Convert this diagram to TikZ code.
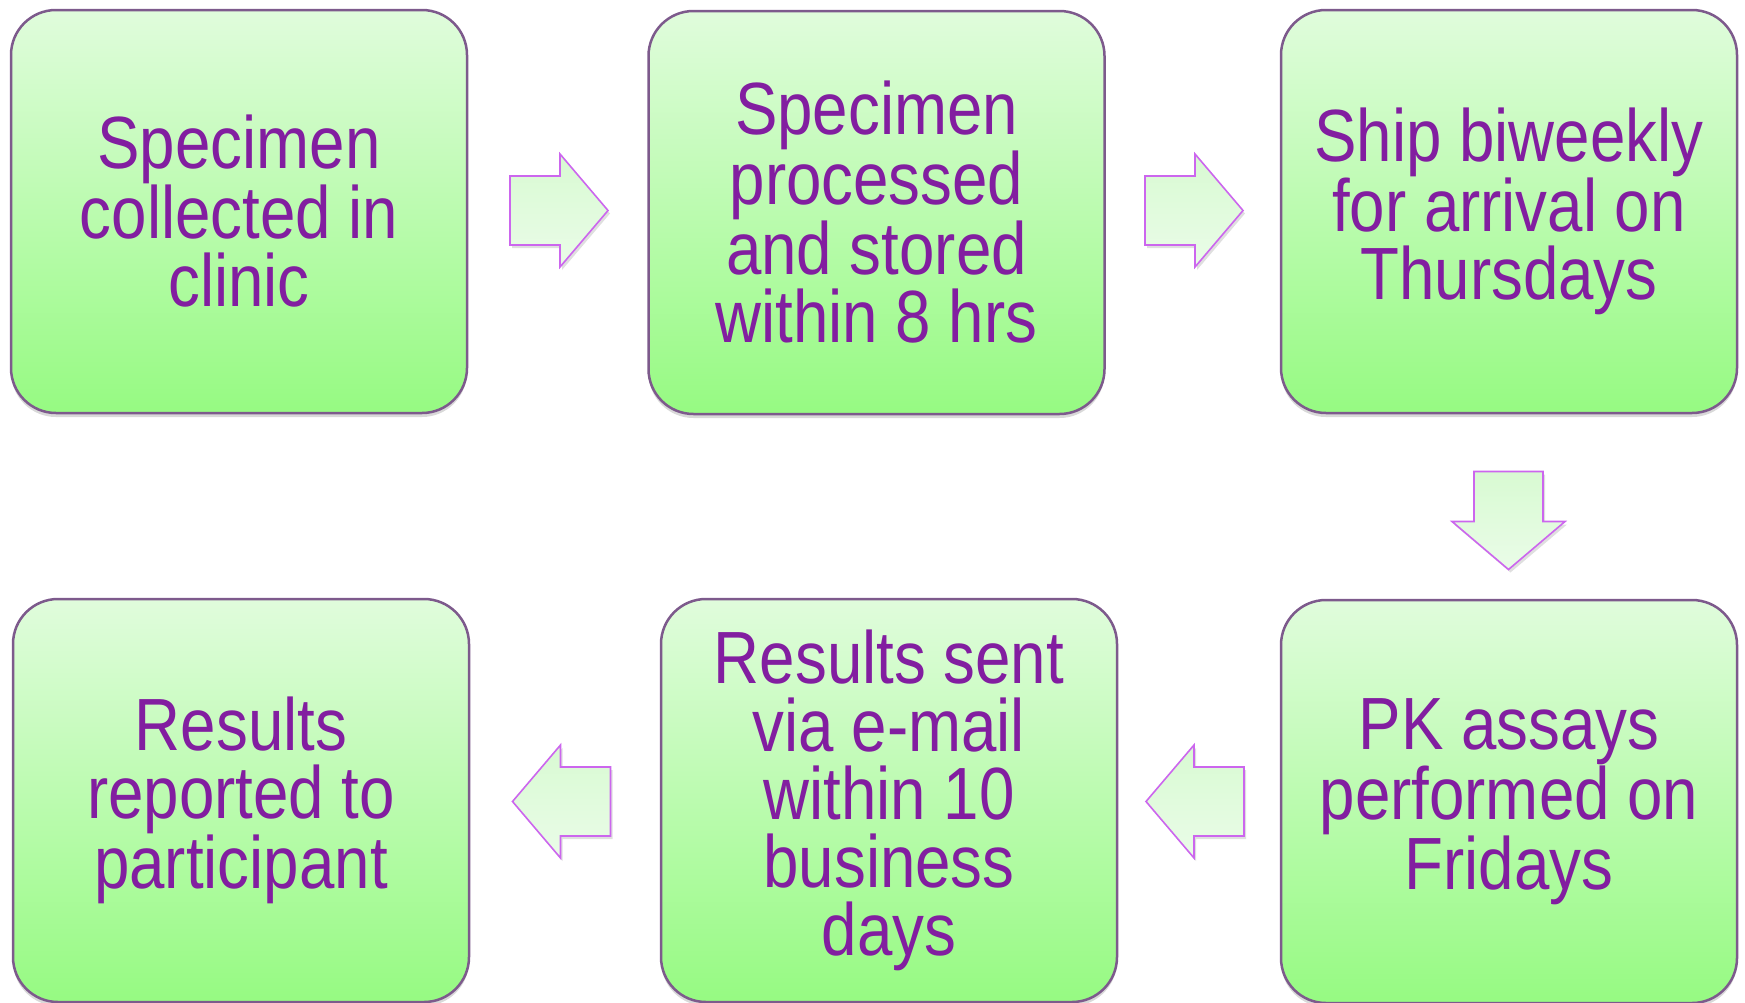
\documentclass[tikz,border=0pt]{standalone}
\usepackage{fontspec}
\setmainfont[FakeStretch=0.86]{Liberation Sans}
\usetikzlibrary{shadows,calc}
\definecolor{txt}{RGB}{130,30,160}
\definecolor{boxtop}{RGB}{224,252,220}
\definecolor{boxbot}{RGB}{150,250,130}
\definecolor{boxline}{RGB}{125,90,140}
\definecolor{arrline}{RGB}{204,102,238}
\definecolor{arrtop}{RGB}{216,250,210}
\definecolor{arrbot}{RGB}{234,252,232}
\begin{document}
\begin{tikzpicture}[x=1pt,y=-1pt,
  stepbox/.style={rectangle, rounded corners=45pt, draw=boxline, line width=2.5pt,
    top color=boxtop, bottom color=boxbot, minimum width=456pt, minimum height=403pt,
    align=center, text=txt, font=\fontsize{74}{68}\selectfont, inner sep=0pt,
    drop shadow={shadow xshift=0pt, shadow yshift=-4pt, opacity=0.3}},
  blockarrow/.style={draw=arrline, line width=1.6pt, top color=arrtop, bottom color=arrbot,
    drop shadow={shadow xshift=2pt, shadow yshift=-3pt, opacity=0.25}},
  barrow/.pic={\path[blockarrow] (-49,-34.5) -- (1,-34.5) -- (1,-56.5) -- (49,0) -- (1,56.5) -- (1,34.5) -- (-49,34.5) -- cycle;}]
\useasboundingbox (0,0) rectangle (1745,1002);
\node[stepbox] (b1) at (239,211.5) {Specimen\\collected in\\clinic};
\node[stepbox] (b2) at (876.5,212.5) {Specimen\\processed\\and stored\\within 8 hrs};
\node[stepbox] (b3) at (1509,211.5) {Ship biweekly\\for arrival on\\Thursdays};
\node[stepbox] (b6) at (1509,801.5) {PK assays\\performed on\\Fridays};
\node[stepbox] (b5) at (889,800.5) {Results sent\\via e-mail\\within 10\\business\\days};
\node[stepbox] (b4) at (241,800.5) {Results\\reported to\\participant};
\coordinate (a1) at (559,210.5);
\coordinate (a2) at (1194,210.5);
\coordinate (a3) at (1508.5,520.5);
\coordinate (a4) at (1195,801.5);
\coordinate (a5) at (561.5,801.5);
\pic at (a1) {barrow};
\pic at (a2) {barrow};
\pic[rotate=-90] at (a3) {barrow};
\pic[rotate=180] at (a4) {barrow};
\pic[rotate=180] at (a5) {barrow};
\end{tikzpicture}
\end{document}
